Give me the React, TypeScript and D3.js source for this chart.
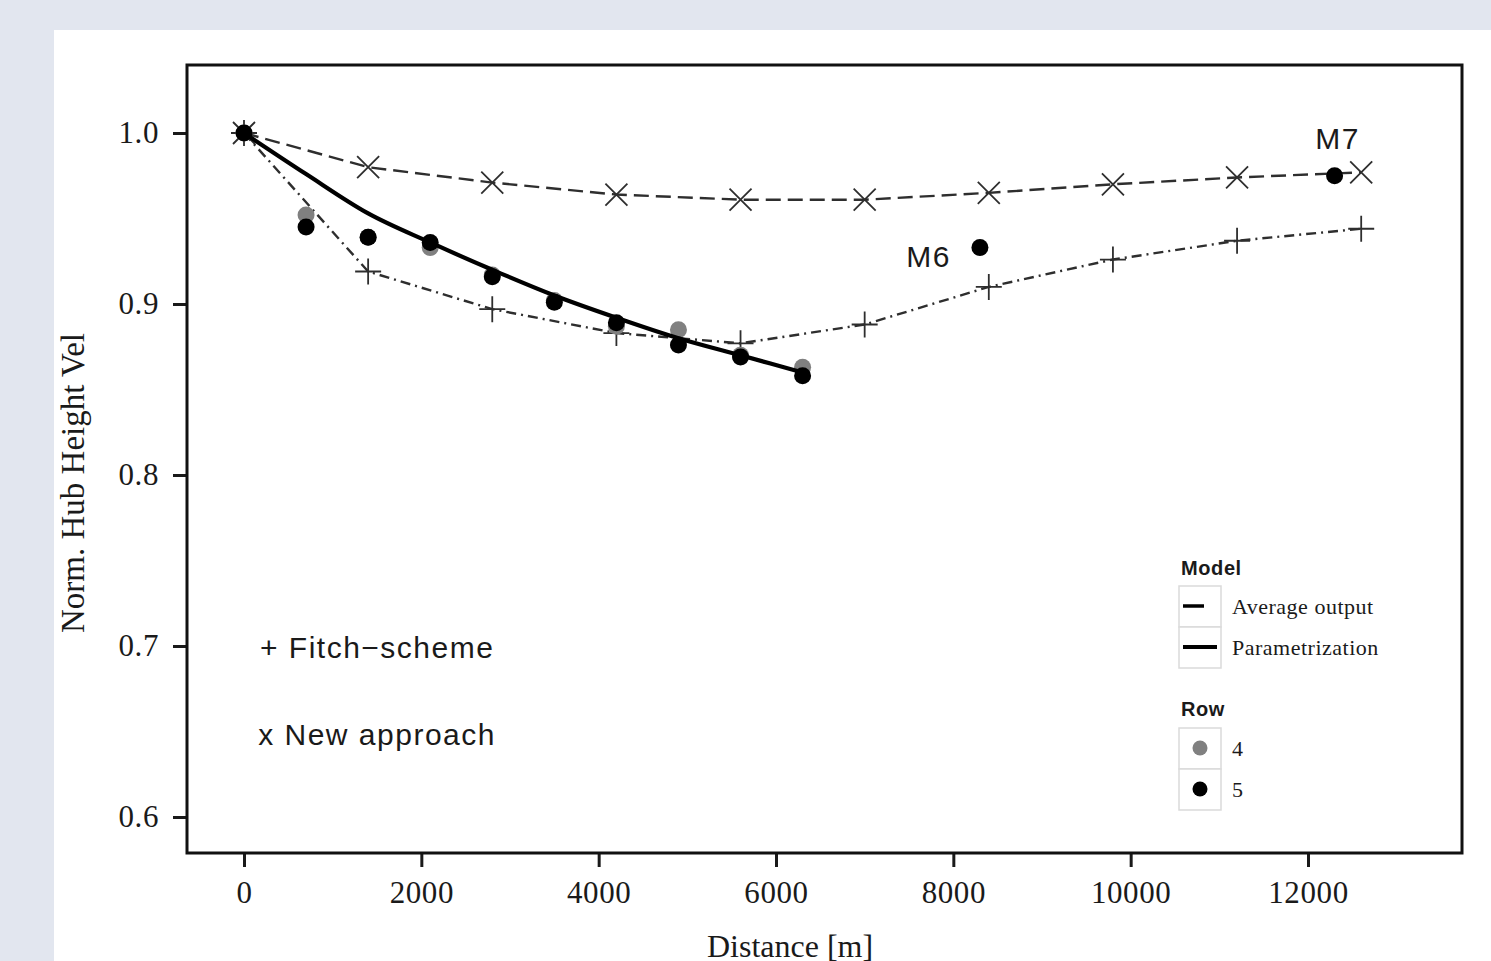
import React, { useRef, useEffect } from 'react';
import * as d3 from 'd3';

// distances [m] for the two wake models
const modelDist = [0, 1400, 2800, 4200, 5600, 7000, 8400, 9800, 11200, 12600];
const fitchVel = [1.0, 0.919, 0.897, 0.883, 0.877, 0.888, 0.910, 0.926, 0.937, 0.944];
const newApproachVel = [1.0, 0.980, 0.971, 0.964, 0.961, 0.961, 0.965, 0.970, 0.974, 0.977];

// measured rows + parametrization
const rowDist = [0, 700, 1400, 2100, 2800, 3500, 4200, 4900, 5600, 6300];
const row4Vel = [1.0, 0.952, 0.939, 0.933, 0.917, 0.902, 0.887, 0.885, 0.870, 0.863];
const row5Vel = [1.0, 0.945, 0.939, 0.936, 0.916, 0.901, 0.889, 0.876, 0.869, 0.858];
const paramVel = [1.0, 0.976, 0.953, 0.936, 0.920, 0.905, 0.892, 0.880, 0.870, 0.860];

// single masts
const mastNames = ['M6', 'M7'];
const mastDist = [8300, 12300];
const mastVel = [0.933, 0.975];

const xTicks = [0, 2000, 4000, 6000, 8000, 10000, 12000];
const yTicks = [0.6, 0.7, 0.8, 0.9, 1.0];

export default function App() {
  const ref = useRef<SVGSVGElement>(null);

  useEffect(() => {
    const svg = d3.select(ref.current);
    svg.selectAll('*').remove();

    const W = 1491, H = 961;
    const frame = { left: 187, top: 65, right: 1462, bottom: 853 };
    const serif = '"Liberation Serif", "Times New Roman", serif';
    const sans = '"Liberation Sans", Arial, sans-serif';
    const ink = '#1a1a1a';
    const lineCol = '#2e2e2e';

    svg.attr('width', W).attr('height', H).attr('viewBox', `0 0 ${W} ${H}`);

    svg.append('rect').attr('width', W).attr('height', H).attr('fill', '#e2e6ef');
    svg.append('rect').attr('x', 54).attr('y', 30).attr('width', W - 54).attr('height', H - 30).attr('fill', '#fff');

    const x = d3.scaleLinear().domain([0, 12000]).range([244, 1308]);
    const y = d3.scaleLinear().domain([0.6, 1.0]).range([817, 133]);

    // axes
    const yAxis = svg.append('g')
      .attr('transform', `translate(${frame.left},0)`)
      .call(d3.axisLeft(y).tickValues(yTicks).tickFormat(d3.format('.1f')).tickSize(14).tickPadding(14));
    const xAxis = svg.append('g')
      .attr('transform', `translate(0,${frame.bottom})`)
      .call(d3.axisBottom(x).tickValues(xTicks).tickFormat(d3.format('d')).tickSize(14).tickPadding(14));

    [yAxis, xAxis].forEach(a => {
      a.select('.domain').remove();
      a.selectAll('line').attr('stroke', ink).attr('stroke-width', 3);
      a.selectAll('text').attr('fill', ink).style('font-family', serif).style('font-size', '31px')
        .style('letter-spacing', '0.6px');
    });

    svg.append('rect')
      .attr('x', frame.left).attr('y', frame.top)
      .attr('width', frame.right - frame.left).attr('height', frame.bottom - frame.top)
      .attr('fill', 'none').attr('stroke', '#111').attr('stroke-width', 3);

    // axis titles
    svg.append('text')
      .attr('x', 790).attr('y', 946)
      .attr('text-anchor', 'middle').attr('dy', '0.35em')
      .style('font-family', serif).style('font-size', '32px').attr('fill', ink)
      .text('Distance [m]');
    svg.append('text')
      .attr('transform', `translate(72,483) rotate(-90)`)
      .attr('text-anchor', 'middle').attr('dy', '0.35em')
      .style('font-family', serif).style('font-size', '33px').attr('fill', ink)
      .text('Norm. Hub Height Vel');

    const line = d3.line<[number, number]>().x(d => x(d[0])).y(d => y(d[1]));

    // Fitch scheme (dash-dot) + new approach (dashed)
    svg.append('path')
      .attr('d', line(modelDist.map((d, i) => [d, fitchVel[i]])))
      .attr('fill', 'none').attr('stroke', lineCol).attr('stroke-width', 2.4)
      .attr('stroke-dasharray', '10,5,2,5');
    svg.append('path')
      .attr('d', line(modelDist.map((d, i) => [d, newApproachVel[i]])))
      .attr('fill', 'none').attr('stroke', lineCol).attr('stroke-width', 2.4)
      .attr('stroke-dasharray', '15,7');

    // markers
    const plus = 13, cross = 11;
    svg.append('g').selectAll('path')
      .data(modelDist.map((d, i) => [d, fitchVel[i]]))
      .join('path')
        .attr('d', d => {
          const cx = x(d[0]), cy = y(d[1]);
          return `M${cx - plus},${cy}H${cx + plus}M${cx},${cy - plus}V${cy + plus}`;
        })
        .attr('stroke', lineCol).attr('stroke-width', 1.8).attr('fill', 'none');
    svg.append('g').selectAll('path')
      .data(modelDist.map((d, i) => [d, newApproachVel[i]]))
      .join('path')
        .attr('d', d => {
          const cx = x(d[0]), cy = y(d[1]);
          return `M${cx - cross},${cy - cross}L${cx + cross},${cy + cross}M${cx - cross},${cy + cross}L${cx + cross},${cy - cross}`;
        })
        .attr('stroke', lineCol).attr('stroke-width', 1.8).attr('fill', 'none');

    // rows
    svg.append('g').selectAll('circle')
      .data(rowDist.map((d, i) => [d, row4Vel[i]]))
      .join('circle')
        .attr('cx', d => x(d[0])).attr('cy', d => y(d[1])).attr('r', 8.5)
        .attr('fill', '#808080');

    svg.append('path')
      .attr('d', line.curve(d3.curveMonotoneX)(rowDist.map((d, i) => [d, paramVel[i]])))
      .attr('fill', 'none').attr('stroke', '#000').attr('stroke-width', 4.2);

    svg.append('g').selectAll('circle')
      .data(rowDist.map((d, i) => [d, row5Vel[i]]))
      .join('circle')
        .attr('cx', d => x(d[0])).attr('cy', d => y(d[1])).attr('r', 8.5)
        .attr('fill', '#000');

    // masts
    svg.append('g').selectAll('circle')
      .data(mastDist.map((d, i) => [d, mastVel[i]]))
      .join('circle')
        .attr('cx', d => x(d[0])).attr('cy', d => y(d[1])).attr('r', 8.5)
        .attr('fill', '#000');
    svg.append('g').selectAll('text')
      .data(mastNames)
      .join('text')
        .attr('x', (d, i) => x(mastDist[i]) + (i === 0 ? -29 : 3))
        .attr('y', (d, i) => y(mastVel[i]) + (i === 0 ? 19 : -27))
        .attr('text-anchor', (d, i) => (i === 0 ? 'end' : 'middle'))
        .style('font-family', sans).style('font-size', '30px').style('letter-spacing', '1.5px')
        .attr('fill', ink)
        .text(d => d);

    // in-plot annotations
    svg.append('text')
      .attr('x', x(180)).attr('y', y(0.693))
      .style('font-family', sans).style('font-size', '30px').style('letter-spacing', '1.5px')
      .attr('fill', ink)
      .text('+ Fitch\u2212scheme');
    svg.append('text')
      .attr('x', x(160)).attr('y', y(0.642))
      .style('font-family', sans).style('font-size', '30px').style('letter-spacing', '1.5px')
      .attr('fill', ink)
      .text('x New approach');

    // legends
    const lg = svg.append('g').attr('transform', 'translate(1179,0)');
    const keyW = 42, keyH = 41;
    const title = (ty: number, t: string) => lg.append('text')
      .attr('x', 2).attr('y', ty)
      .style('font-family', sans).style('font-weight', 'bold').style('font-size', '20px')
      .style('letter-spacing', '0.6px').attr('fill', ink)
      .text(t);
    const label = (ty: number, t: string) => lg.append('text')
      .attr('x', keyW + 11).attr('y', ty).attr('dy', '0.35em')
      .style('font-family', serif).style('font-size', '22px').style('letter-spacing', '0.5px')
      .attr('fill', ink)
      .text(t);
    const box = (by: number) => lg.append('rect')
      .attr('x', 0).attr('y', by).attr('width', keyW).attr('height', keyH)
      .attr('fill', '#fff').attr('stroke', '#dadada').attr('stroke-width', 1.5);

    title(575, 'Model');
    box(586); box(627);
    lg.append('line').attr('x1', 4).attr('x2', 38).attr('y1', 606).attr('y2', 606)
      .attr('stroke', '#000').attr('stroke-width', 3.5).attr('stroke-dasharray', '21,40');
    lg.append('line').attr('x1', 4).attr('x2', 38).attr('y1', 647).attr('y2', 647)
      .attr('stroke', '#000').attr('stroke-width', 4);
    label(606, 'Average output');
    label(647, 'Parametrization');

    title(716, 'Row');
    box(728); box(769);
    lg.append('circle').attr('cx', 21).attr('cy', 748).attr('r', 7.5).attr('fill', '#808080');
    lg.append('circle').attr('cx', 21).attr('cy', 789).attr('r', 7.5).attr('fill', '#000');
    label(748, '4');
    label(789, '5');
  }, []);

  return <svg ref={ref} style={{ position: 'absolute', left: 0, top: 0, display: 'block' }} />;
}
